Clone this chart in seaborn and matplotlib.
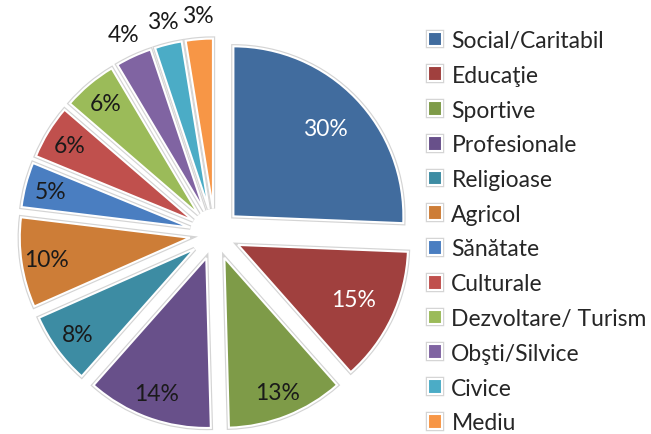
import numpy as np
import pandas as pd
import matplotlib
matplotlib.use("Agg")
import matplotlib.pyplot as plt
import matplotlib.patheffects as pe
import seaborn as sns

# Chart data
categories = ["Social/Caritabil", "Educaţie", "Sportive", "Profesionale", "Religioase",
              "Agricol", "Sănătate", "Culturale", "Dezvoltare/ Turism", "Obşti/Silvice",
              "Civice", "Mediu"]
values = [30, 15, 13, 14, 8, 10, 5, 6, 6, 4, 3, 3]
colors = ["#416C9E", "#A0403E", "#7E9B48", "#68508A", "#3D8CA3", "#CD7D37",
          "#4A7EC1", "#C0504D", "#9BBB59", "#8064A2", "#4BACC6", "#F79646"]
white_labels = ["Social/Caritabil", "Educaţie"]
outside_labels = ["Obşti/Silvice", "Civice", "Mediu"]

df = pd.DataFrame({"category": categories, "value": values})
palette = sns.color_palette(colors)

sns.set_theme(style="white")
plt.rcParams["font.family"] = ["Lato", "DejaVu Sans"]

W, H = 651, 435
R = 170.0  # pie radius in px
cx, cy = 215, 200  # pie centre in px from bottom-left

fig = plt.figure(figsize=(W / 100, H / 100), dpi=100)
ax_w = 410
ax = fig.add_axes([0, 0, ax_w / W, 1])

total = df["value"].sum()
wedges, texts, autotexts = ax.pie(
    df["value"],
    colors=palette,
    startangle=90,
    counterclock=False,
    explode=[0.15] * len(df),
    autopct=lambda p: f"{p * total / 100:.0f}%",
    pctdistance=0.85,
    wedgeprops=dict(edgecolor="white", linewidth=1.5),
    textprops=dict(fontsize=16.5, color="#1a1a1a"),
)

for w in wedges:
    w.set_path_effects([pe.Stroke(linewidth=3.2, foreground="#d4d4d4"), pe.Normal()])

# move labels for specific slices
for cat, w, t in zip(df["category"], wedges, autotexts):
    ang = np.deg2rad((w.theta1 + w.theta2) / 2)
    ox, oy = 0.15 * np.cos(ang), 0.15 * np.sin(ang)
    if cat in white_labels:
        d = 0.75
        t.set_color("white")
    elif cat in outside_labels:
        d = 1.14
    else:
        continue
    t.set_position((ox + d * np.cos(ang), oy + d * np.sin(ang)))

ax.set_xlim(-cx / R, (ax_w - cx) / R)
ax.set_ylim(-cy / R, (H - cy) / R)
ax.set_aspect("auto")
ax.axis("off")

fig.legend(wedges, df["category"], loc="upper left", bbox_to_anchor=(428 / W, 1 - 31 / H),
           frameon=False, fontsize=16.5, handlelength=0.62, handleheight=0.62,
           handletextpad=0.4, labelspacing=0.6, borderaxespad=0, borderpad=0)

fig.savefig("out.png", dpi=100)
